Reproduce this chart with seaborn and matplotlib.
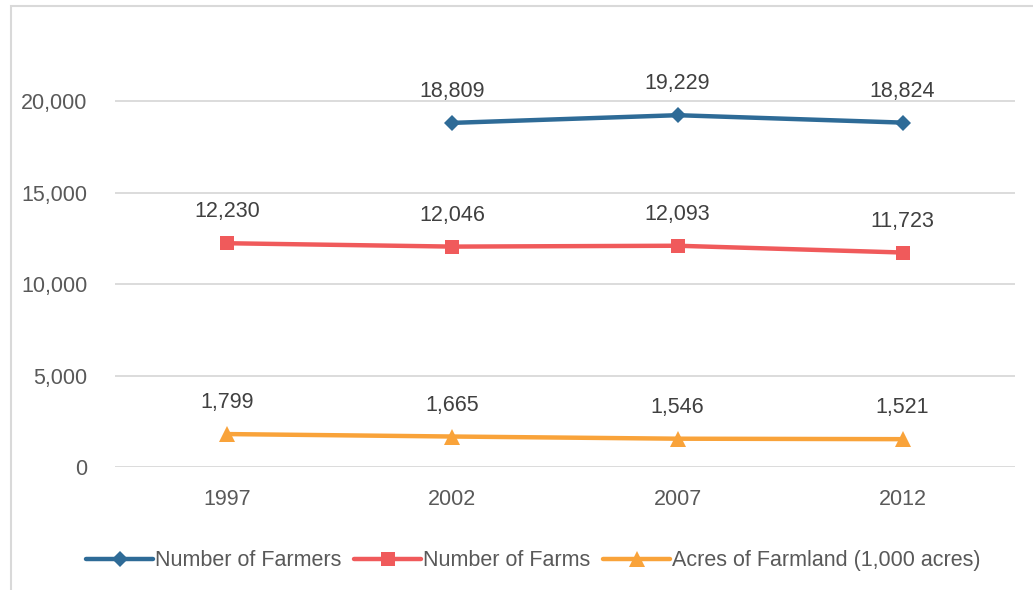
import numpy as np
import pandas as pd
import matplotlib.pyplot as plt
import seaborn as sns
from matplotlib.patches import Rectangle

years = ["1997", "2002", "2007", "2012"]
farmers = [np.nan, 18809, 19229, 18824]
farms = [12230, 12046, 12093, 11723]
acres = [1799, 1665, 1546, 1521]

series_names = ["Number of Farmers", "Number of Farms", "Acres of Farmland (1,000 acres)"]
colors = ["#2E6B97", "#F05A5B", "#F9A33A"]
markers = ["D", "s", "^"]
marker_sizes = [8, 10, 11]

sns.set_style("white")
plt.rcParams["font.family"] = ["Liberation Sans", "DejaVu Sans"]

df = pd.DataFrame({"year": years, series_names[0]: farmers,
                   series_names[1]: farms, series_names[2]: acres})

fig = plt.figure(figsize=(10.33, 5.9), dpi=100)
ax = fig.add_axes([0.1113, 0.2085, 0.8713, 0.7752])
# register the category order before plotting
ax.xaxis.update_units(years)

for name, c, m, ms in zip(series_names, colors, markers, marker_sizes):
    sub = df[["year", name]].dropna()
    sns.lineplot(data=sub, x="year", y=name, color=c, marker=m, markersize=ms,
                 markeredgewidth=0, linewidth=3.2, label=name, ax=ax, sort=False)
    for x, y in zip(sub["year"], sub[name]):
        ax.annotate(f"{y:,.0f}", (x, y), xytext=(0, 15), textcoords="offset points",
                    ha="center", va="bottom", fontsize=15.5, color="#404040")

ax.set_xlim(-0.5, 3.5)
ax.set_ylim(0, 25000)
ax.set_yticks([0, 5000, 10000, 15000, 20000])
ax.yaxis.set_major_formatter(plt.FuncFormatter(lambda v, p: f"{v:,.0f}"))
ax.grid(axis="y", color="#D9D9D9", linewidth=1.3)
ax.set_axisbelow(True)
for s in ax.spines.values():
    s.set_visible(False)
ax.tick_params(axis="both", length=0, labelsize=15.5, labelcolor="#595959")
ax.tick_params(axis="x", pad=16)
ax.tick_params(axis="y", pad=20)
ax.set_xlabel("")
ax.set_ylabel("")

leg = ax.legend(loc="upper center", bbox_to_anchor=(0.465, -0.14), ncol=3, frameon=False,
                fontsize=15.5, handlelength=3.1, columnspacing=0.6, handletextpad=0.1,
                labelcolor="#595959")

fig.patches.append(Rectangle((11 / 1033, -0.1), 1.2, 1 - 6 / 590 + 0.1,
                             transform=fig.transFigure, fill=False,
                             edgecolor="#D9D9D9", linewidth=1.5))

fig.savefig("out.png", dpi=100)
